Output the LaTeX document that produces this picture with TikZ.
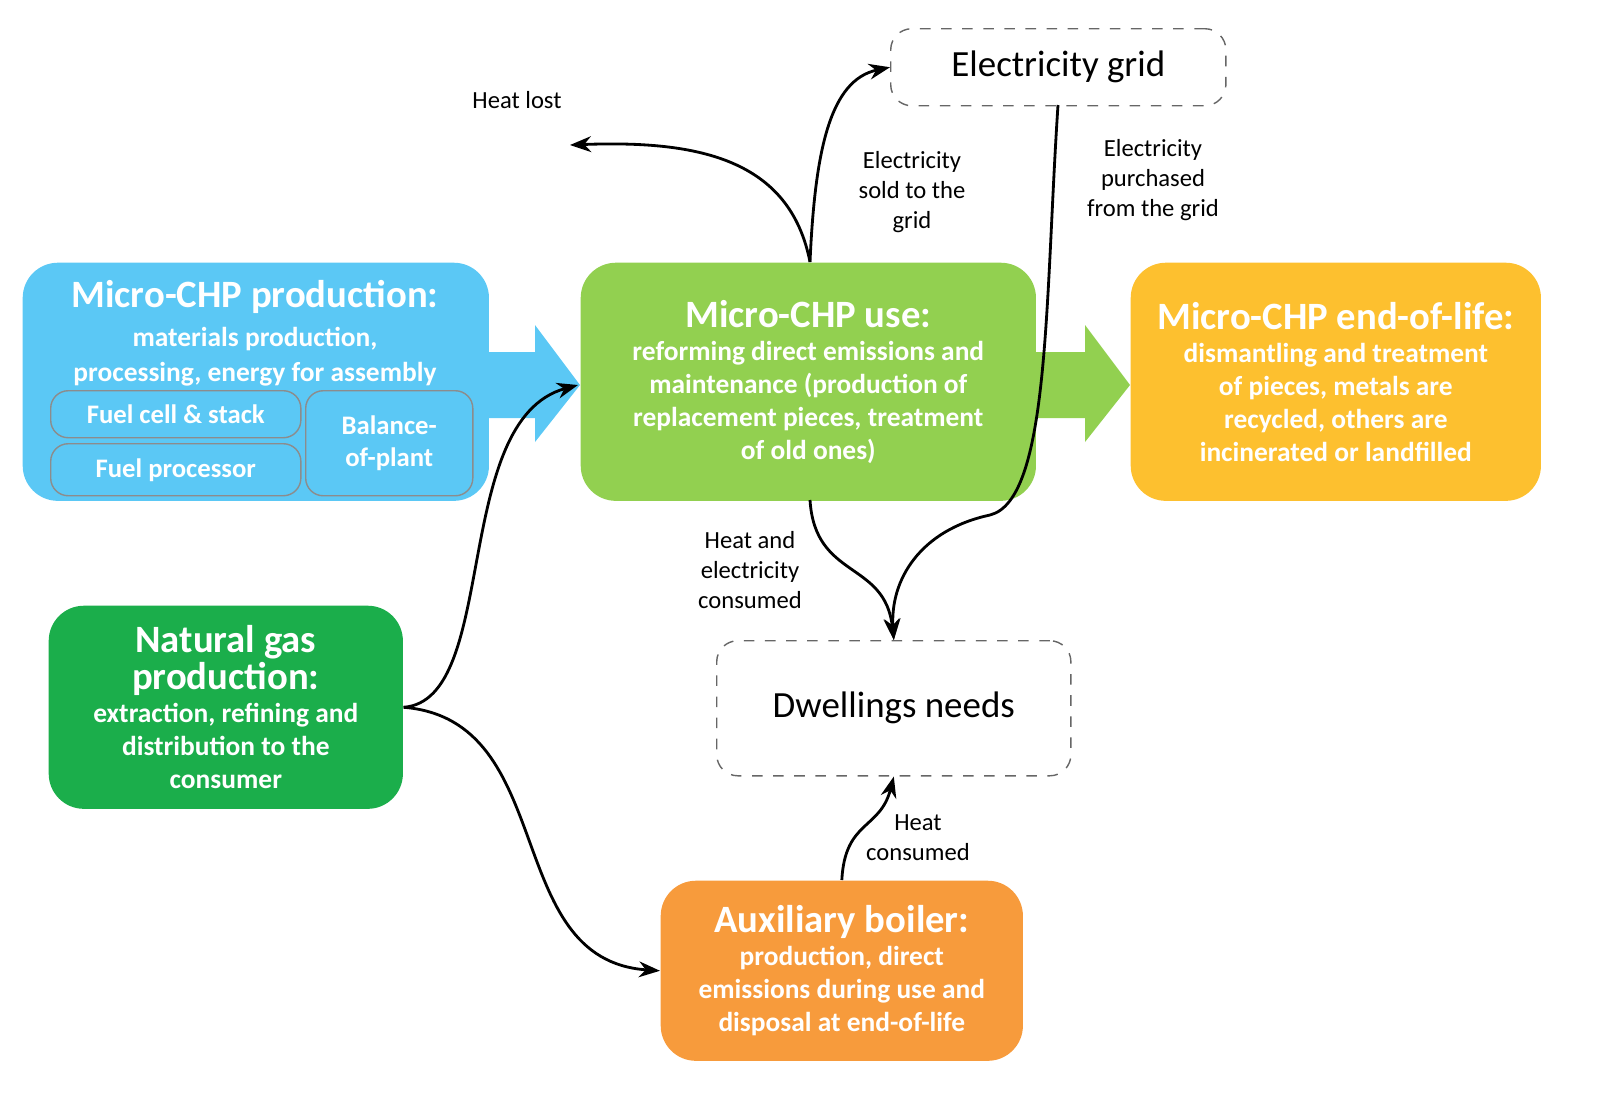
\documentclass[tikz,border=0pt]{standalone}
\usepackage{fontspec}
\setmainfont{Carlito}
\usetikzlibrary{arrows.meta,positioning}
\definecolor{prodblue}{HTML}{5BC8F5}
\definecolor{usegreen}{HTML}{92D050}
\definecolor{eolyellow}{HTML}{FDC02F}
\definecolor{gasgreen}{HTML}{1BAE4B}
\definecolor{boilorange}{HTML}{F79B3C}
\tikzset{
  stage/.style={rounded corners=10pt, draw=none, text=white, align=center, font=\bfseries\fontsize{7.8}{9.4}\selectfont},
  sub/.style={rounded corners=5pt, draw=black!45, fill=prodblue, text=white, align=center, font=\bfseries\fontsize{7.6}{9.2}\selectfont},
  sink/.style={rounded corners=6pt, draw=black!60, dashed, align=center, font=\fontsize{10.5}{12}\selectfont},
  flow/.style={-{Stealth[length=6pt]}, thick},
  lbl/.style={align=center, font=\fontsize{7}{8.6}\selectfont}
}
\newcommand{\ttl}[1]{{\fontsize{11}{13}\selectfont #1}}
\begin{document}
\begin{tikzpicture}[x=0.01cm,y=-0.01cm]
\useasboundingbox (0,0) rectangle (1606,1117);

% block arrows
\fill[prodblue] (480,352) -- (535,352) -- (535,325) -- (580,385) -- (535,442) -- (535,418) -- (480,418) -- cycle;
\fill[usegreen] (1030,352) -- (1085,352) -- (1085,325) -- (1130,385) -- (1085,442) -- (1085,418) -- (1030,418) -- cycle;

% stage boxes
\node[stage, fill=prodblue, minimum width=4.66cm, minimum height=2.38cm, anchor=north west] (prod) at (22,262) {};
\node[anchor=north] at (255,266) {\color{white}\bfseries\begin{tabular}{@{}c@{}}\ttl{Micro-CHP production:}\\[-1pt]\fontsize{7.8}{9.4}\selectfont materials production,\\[-2pt]\fontsize{7.8}{9.4}\selectfont processing, energy for assembly\end{tabular}};
\node[sub, minimum width=2.5cm, minimum height=0.47cm, anchor=north west] (cell) at (50,390) {Fuel cell \& stack};
\node[sub, minimum width=2.5cm, minimum height=0.52cm, anchor=north west] (proc) at (50,443) {Fuel processor};
\node[sub, minimum width=1.67cm, minimum height=1.05cm, anchor=north west] (bop) at (305,390) {Balance-\\of-plant};

\node[stage, fill=usegreen, minimum width=4.55cm, minimum height=2.38cm, anchor=north west] (use) at (580,262) {\ttl{Micro-CHP use:}\\reforming direct emissions and\\maintenance (production of\\replacement pieces, treatment\\of old ones)};
\node[stage, fill=eolyellow, minimum width=4.1cm, minimum height=2.38cm, anchor=north west] (eol) at (1130,262) {\ttl{Micro-CHP end-of-life:}\\dismantling and treatment\\of pieces, metals are\\recycled, others are\\incinerated or landfilled};
\node[stage, fill=gasgreen, minimum width=3.54cm, minimum height=2.03cm, anchor=north west] (gas) at (48,605) {\ttl{Natural gas}\\\ttl{production:}\\extraction, refining and\\distribution to the\\consumer};
\node[stage, fill=boilorange, minimum width=3.62cm, minimum height=1.8cm, anchor=north west] (boiler) at (660,880) {\ttl{Auxiliary boiler:}\\production, direct\\emissions during use and\\disposal at end-of-life};

% sinks
\node[sink, minimum width=3.35cm, minimum height=0.77cm, anchor=north west] (grid) at (890,28) {Electricity grid};
\node[sink, minimum width=3.54cm, minimum height=1.35cm, anchor=north west] (dwell) at (716,640) {Dwellings needs};

% flows
\coordinate (heatlost) at (570,145);
\coordinate (usetop) at (810,262);
\coordinate (usebot) at (810,500);
\coordinate (usein) at (578,385);
\draw[flow] (usetop) .. controls (790,160) and (700,140) .. (heatlost);
\node[lbl] (hl) at (517,100) {Heat lost};
\draw[flow] (usetop) .. controls (815,150) and (830,80) .. (grid.west);
\node[lbl] (sold) at (912,192) {Electricity\\sold to the\\grid};
\draw[flow] (1058,105) .. controls (1045,300) and (1050,500) .. (990,515) .. controls (920,530) and (890,580) .. (dwell.north);
\node[lbl] (buy) at (1153,180) {Electricity\\purchased\\from the grid};
\draw[flow] (usebot) .. controls (815,580) and (885,560) .. (dwell.north);
\node[lbl] (hec) at (750,570) {Heat and\\electricity\\consumed};
\draw[flow] (gas.east) .. controls (500,700) and (450,420) .. (usein);
\draw[flow] (gas.east) .. controls (560,720) and (500,960) .. (boiler.west);
\draw[flow] (boiler.north) .. controls (845,820) and (880,830) .. (dwell.south);
\node[lbl] (hc) at (918,838) {Heat\\consumed};
\end{tikzpicture}
\end{document}
